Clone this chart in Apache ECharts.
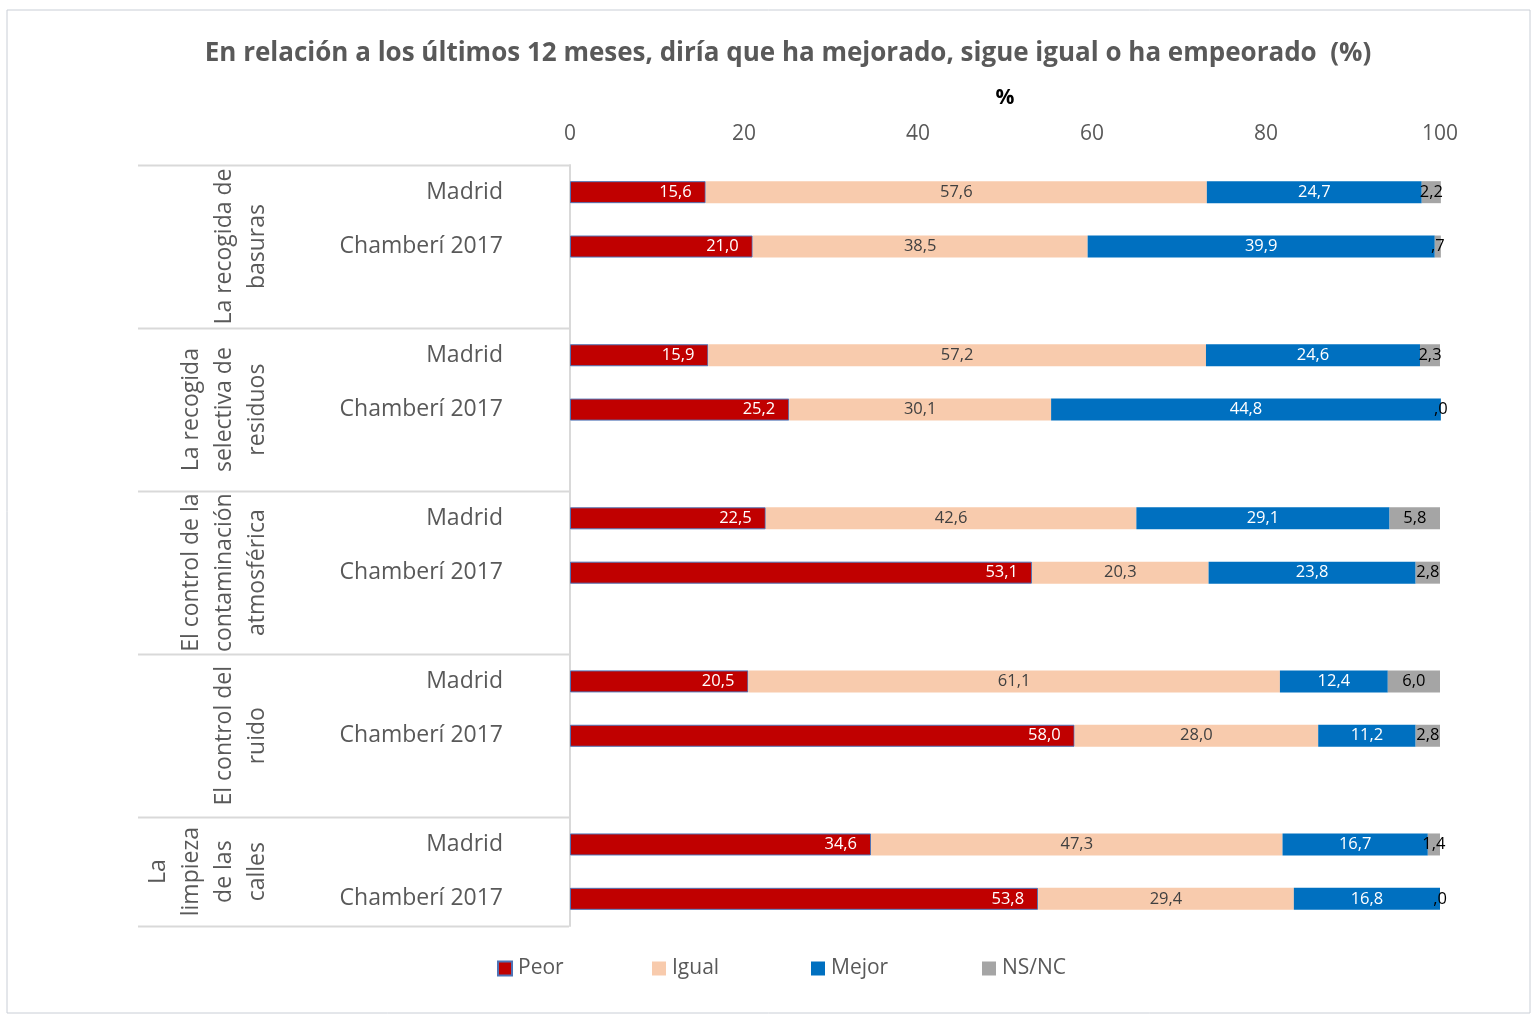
<!DOCTYPE html>
<html>
<head>
<meta charset="utf-8">
<script src="https://cdn.jsdelivr.net/npm/echarts@6/dist/echarts.min.js"></script>
<style>
html,body{margin:0;padding:0;background:#fff;}
#main{width:1537px;height:1016px;}
</style>
</head>
<body>
<div id="main"></div>
<script>
// ---- data ----
const titleText = 'En relación a los últimos 12 meses, diría que ha mejorado, sigue igual o ha empeorado  (%)';
const groups = ['La recogida de\nbasuras', 'La recogida\nselectiva de\nresiduos', 'El control de la\ncontaminación\natmosférica', 'El control del\nruido', 'La\nlimpieza\nde las\ncalles'];
const rowLabels = ['Madrid', 'Chamberí 2017', '', 'Madrid', 'Chamberí 2017', '', 'Madrid', 'Chamberí 2017', '', 'Madrid', 'Chamberí 2017', '', 'Madrid', 'Chamberí 2017'];
const groupStart = [0, 3, 6, 9, 12];
const groupEnd = [2, 5, 8, 11, 13];
const seriesNames = ['Peor', 'Igual', 'Mejor', 'NS/NC'];
const peor  = [15.6, 21.0, null, 15.9, 25.2, null, 22.5, 53.1, null, 20.5, 58.0, null, 34.6, 53.8];
const igual = [57.6, 38.5, null, 57.2, 30.1, null, 42.6, 20.3, null, 61.1, 28.0, null, 47.3, 29.4];
const mejor = [24.7, 39.9, null, 24.6, 44.8, null, 29.1, 23.8, null, 12.4, 11.2, null, 16.7, 16.8];
const nsnc  = [2.2, 0.7, null, 2.3, 0.0, null, 5.8, 2.8, null, 6.0, 2.8, null, 1.4, 0.0];
const xTicks = [0, 20, 40, 60, 80, 100];

const colors = ['#C00000', '#F8CBAD', '#0070C0', '#A5A5A5'];
const FONT = '"Open Sans", sans-serif';

function fmt(v) {
  let s = v.toFixed(1).replace('.', ',');
  if (v < 1) s = s.replace(/^0/, '');
  return s;
}

const chart = echarts.init(document.getElementById('main'), null, {renderer: 'canvas'});
const catData = rowLabels.map((l, i) => ({value: 'r' + i}));

const dataSets = [peor, igual, mejor, nsnc];
const labelCfg = [
  {position: 'insideRight', distance: 14, color: '#ffffff'},
  {position: 'inside', color: '#404040'},
  {position: 'inside', color: '#ffffff'},
  {position: 'inside', color: '#000000'}
];

const series = seriesNames.map((n, k) => ({
  name: n,
  type: 'bar',
  stack: 'total',
  barWidth: 22,
  clip: false,
  data: dataSets[k],
  itemStyle: k === 0 ? {color: colors[k], borderColor: '#4F73B5', borderWidth: 1} : {color: colors[k]},
  label: {
    show: true,
    position: labelCfg[k].position,
    distance: labelCfg[k].distance,
    color: labelCfg[k].color,
    fontFamily: FONT,
    fontSize: 16.5,
    formatter: p => (p.value == null ? '' : fmt(p.value))
  },
  labelLayout: {hideOverlap: false},
  emphasis: {disabled: true}
}));

const legendLefts = [497, 652, 811, 982];
const legends = seriesNames.map((n, k) => ({
  data: [n],
  left: legendLefts[k], top: 958,
  padding: 0,
  itemWidth: 14, itemHeight: 14,
  icon: 'rect',
  textStyle: {fontFamily: FONT, fontSize: 21, color: '#595959', padding: [0, 0, 0, 1]}
}));

const option = {
  animation: false,
  backgroundColor: '#fff',
  title: {
    text: titleText,
    left: 783, top: 36,
    textAlign: 'center',
    textStyle: {fontFamily: FONT, fontSize: 26, fontWeight: 'bold', color: '#595959'}
  },
  legend: legends,
  grid: {left: 570, right: 97, top: 165, bottom: 90, containLabel: false},
  xAxis: {
    type: 'value',
    position: 'top',
    min: 0, max: 100, interval: 20,
    name: '%',
    nameLocation: 'middle',
    nameGap: 56,
    nameTextStyle: {fontFamily: FONT, fontSize: 21, fontWeight: 'bold', color: '#000'},
    axisLine: {show: false},
    axisTick: {show: false},
    splitLine: {show: false},
    axisLabel: {
      fontFamily: FONT, fontSize: 21, color: '#595959', margin: 20,
      formatter: v => (xTicks.indexOf(v) >= 0 ? String(v) : '')
    }
  },
  yAxis: {
    type: 'category',
    inverse: true,
    data: catData,
    axisLine: {show: true, lineStyle: {color: '#D9D9D9', width: 2}},
    axisTick: {show: false},
    splitLine: {show: false},
    axisLabel: {
      fontFamily: FONT, fontSize: 23, color: '#595959', margin: 67,
      formatter: (v, i) => rowLabels[i]
    }
  },
  series: series
};

chart.setOption(option);

// group labels and separators positioned via the axis scale
const gfx = [];
gfx.push({type: 'rect', shape: {x: 7, y: 10, width: 1523, height: 1003}, style: {fill: 'none', stroke: '#C9CED6', lineWidth: 1}, z: 0});
const y0 = chart.convertToPixel({yAxisIndex: 0}, 'r0');
const y1 = chart.convertToPixel({yAxisIndex: 0}, 'r1');
const band = y1 - y0;
const boundaries = [];
groupStart.forEach((s, g) => {
  const top = chart.convertToPixel({yAxisIndex: 0}, 'r' + s) - band / 2;
  const bot = chart.convertToPixel({yAxisIndex: 0}, 'r' + groupEnd[g]) + band / 2;
  if (g === 0) boundaries.push(top);
  boundaries.push(bot);
  gfx.push({
    type: 'text',
    x: 274, y: (top + bot) / 2,
    rotation: Math.PI / 2,
    style: {
      text: groups[g],
      fontFamily: FONT, fontSize: 23, lineHeight: 33,
      fill: '#595959',
      align: 'center', verticalAlign: 'bottom'
    }
  });
});
boundaries.forEach(b => {
  gfx.push({type: 'line', shape: {x1: 138, y1: Math.round(b) + 0.5, x2: 569, y2: Math.round(b) + 0.5}, style: {stroke: '#D9D9D9', lineWidth: 2}});
});
chart.setOption({graphic: gfx});
</script>
</body>
</html>
